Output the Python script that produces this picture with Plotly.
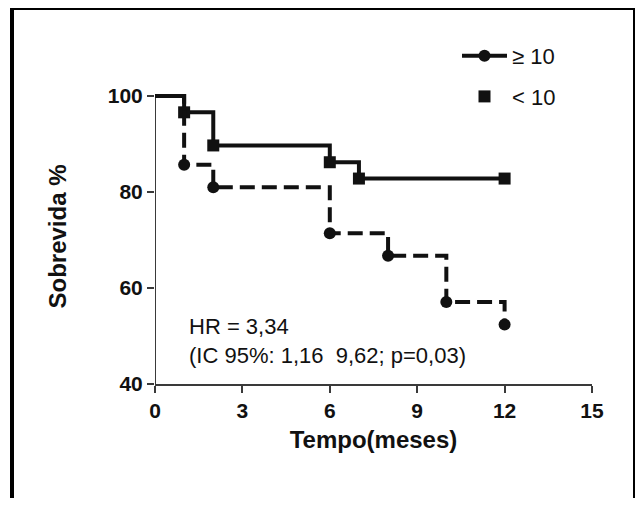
import plotly.graph_objects as go

# ---- data (Kaplan-Meier steps) ----
time_lt10 = [0, 1, 2, 6, 7, 12]
surv_lt10 = [100, 96.6, 89.7, 86.2, 82.8, 82.8]

time_ge10 = [0, 1, 2, 6, 8, 10, 12]
surv_ge10 = [100, 85.7, 81.0, 71.4, 66.7, 57.1, 52.4]

x_ticks = [0, 3, 6, 9, 12, 15]
y_ticks = [40, 60, 80, 100]

label_ge10 = "≥ 10"
label_lt10 = "< 10"
hr_text = "HR = 3,34<br>(IC 95%: 1,16\u00a0\u00a09,62; p=0,03)"

# ---- layout geometry (page has an 8px body margin) ----
OFF = 8
W, H = 643 - OFF, 506 - 2 * OFF
# plot area in screen px: x 155..592, y 89..384
ML = 155 - OFF
MR = W - (592 - OFF)
MT = 89 - OFF
MB = H - (384 - OFF)
PW, PH = W - ML - MR, H - MT - MB

def px_x(p):
    """screen px -> paper x"""
    return (p - OFF - ML) / PW

def px_y(p):
    """screen px -> paper y"""
    return (H - MB - (p - OFF)) / PH

FONT = "Liberation Sans, Arial, sans-serif"
INK = "#111111"
AX = "#3a3a3a"

fig = go.Figure()

fig.add_trace(go.Scatter(
    x=time_lt10, y=surv_lt10, mode="lines+markers", line_shape="hv",
    line=dict(color=INK, width=4),
    marker=dict(symbol="square", size=[0] + [12] * (len(time_lt10) - 1), color=INK,
                opacity=1, line=dict(width=0)),
    showlegend=False, cliponaxis=False,
))
fig.add_trace(go.Scatter(
    x=time_ge10, y=surv_ge10, mode="lines+markers", line_shape="hv",
    line=dict(color=INK, width=4, dash="15px,7px"),
    marker=dict(symbol="circle", size=[0] + [12] * (len(time_ge10) - 1), color=INK,
                opacity=1, line=dict(width=0)),
    showlegend=False, cliponaxis=False,
))

# legend entries (as in the original figure legend)
fig.add_trace(go.Scatter(
    x=[None], y=[None], mode="lines+markers", name=label_ge10,
    line=dict(color=INK, width=4), marker=dict(symbol="circle", size=12, color=INK),
    legendgroup="a",
))
fig.add_trace(go.Scatter(
    x=[None], y=[None], mode="markers", name=label_lt10,
    marker=dict(symbol="square", size=12, color=INK),
    legendgroup="b",
))

y_top = 100 + (96 - 89) / 4.8

fig.update_xaxes(
    range=[0, 15], tickvals=x_ticks, ticks="outside", ticklen=7, tickwidth=2,
    tickcolor=AX, showline=True, linecolor=AX, linewidth=2, showgrid=False,
    zeroline=False, tickfont=dict(family=FONT, size=21, color=INK, weight="bold"),
    title=dict(text="Tempo(meses)", font=dict(family=FONT, size=24, color=INK, weight="bold"),
               standoff=10),
)
fig.update_yaxes(
    range=[40, y_top], tickvals=y_ticks, ticks="outside", ticklen=7, tickwidth=2,
    tickcolor=AX, showline=False, showgrid=False, zeroline=False,
    tickfont=dict(family=FONT, size=21, color=INK, weight="bold"),
    title=dict(text="Sobrevida %", font=dict(family=FONT, size=24, color=INK, weight="bold"),
               standoff=34),
)

fig.update_layout(
    width=W, height=H,
    margin=dict(l=ML, r=MR, t=MT, b=MB),
    paper_bgcolor="white", plot_bgcolor="white",
    font=dict(family=FONT, color=INK),
    legend=dict(x=px_x(457), y=px_y(35), xanchor="left", yanchor="top",
                font=dict(family=FONT, size=22, color=INK), itemwidth=45,
                traceorder="grouped", tracegroupgap=9, bgcolor="rgba(0,0,0,0)"),
    shapes=[
        # y axis line from 40 to 100
        dict(type="line", xref="x", yref="y", x0=0, x1=0, y0=40, y1=100,
             line=dict(color=AX, width=2), layer="below"),
        # outer frame: top, left, right
        dict(type="line", xref="paper", yref="paper",
             x0=px_x(10), x1=px_x(637), y0=px_y(OFF), y1=px_y(OFF),
             line=dict(color="#000000", width=4), layer="below"),
        dict(type="line", xref="paper", yref="paper",
             x0=px_x(12), x1=px_x(12), y0=px_y(540), y1=px_y(OFF - 2),
             line=dict(color="#000000", width=4), layer="below"),
        dict(type="line", xref="paper", yref="paper",
             x0=px_x(635), x1=px_x(635), y0=px_y(540), y1=px_y(OFF - 2),
             line=dict(color="#000000", width=4), layer="below"),
    ],
    annotations=[
        dict(text=hr_text, xref="x", yref="y", x=1.1, y=49.0,
             xanchor="left", yanchor="middle", align="left", showarrow=False,
             font=dict(family=FONT, size=22, color=INK)),
    ],
)

fig.write_html("out.html")
